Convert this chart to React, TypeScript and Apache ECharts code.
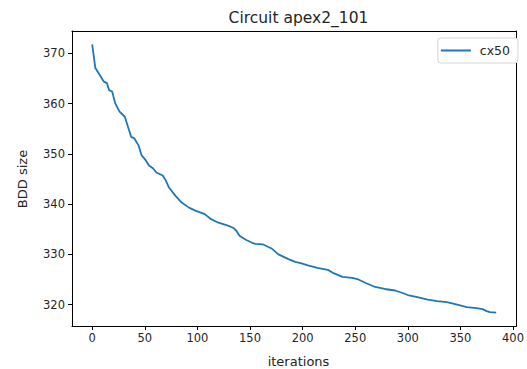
import React, { useEffect, useRef } from "react";
import * as echarts from "echarts";

const iterations = [0,3,6,11,14,16,19,22,26,31,34,37,40,44,47,51,54,58,61,67,70,73,79,85,92,98,107,113,120,129,134,137,140,146,152,155,162,171,177,187,193,199,205,214,224,230,238,247,253,260,269,278,288,295,300,309,319,328,337,347,356,365,371,375,378,384];
const bddSize = [371.8,367.1,366.1,364.4,364.1,362.7,362.4,360,358.4,357.4,355.4,353.4,353.1,351.7,349.7,348.7,347.7,347.1,346.3,345.7,344.7,343.3,341.7,340.3,339.3,338.7,338,337,336.3,335.7,335.3,334.7,333.7,332.9,332.3,332.1,332,331.1,330,329,328.5,328.2,327.8,327.3,326.9,326.2,325.5,325.3,325,324.3,323.5,323.1,322.8,322.3,321.9,321.5,321,320.7,320.5,320,319.5,319.3,319.1,318.7,318.5,318.4];
const xTicks = [0,50,100,150,200,250,300,350,400];
const yTicks = [320,330,340,350,360,370];
const seriesName = "cx50";
const titleText = "Circuit apex2_101";
const xName = "iterations";
const yName = "BDD size";

const FONT = "DejaVu Sans";
const TXT = "#262626";

export default function App() {
  const ref = useRef<HTMLDivElement>(null);
  useEffect(() => {
    if (!ref.current) return;
    const chart = echarts.init(ref.current, undefined, { renderer: "svg" });
    const gridLeft = 72, gridRight = 2, gridTop = 31, gridBottom = 43;
    const cx = gridLeft + (527 - gridLeft - gridRight) / 2;
    const frameAxis = { show: true, onZero: false, lineStyle: { color: "#000", width: 1 } };
    chart.setOption({
      animation: false,
      grid: { left: gridLeft, right: gridRight, top: gridTop, bottom: gridBottom },
      xAxis: [{
        type: "value", min: -19.2, max: 403.2, position: "bottom",
        splitLine: { show: false },
        axisLine: frameAxis,
        axisTick: { show: true, customValues: xTicks, length: 4, lineStyle: { color: "#000" } },
        axisLabel: { customValues: xTicks, margin: 6, color: TXT, fontFamily: FONT, fontSize: 11.5 },
      }, {
        type: "value", min: -19.2, max: 403.2, position: "top",
        splitLine: { show: false }, axisLine: frameAxis, axisTick: { show: false }, axisLabel: { show: false },
      }],
      yAxis: [{
        type: "value", min: 315.73, max: 374.47, position: "left",
        splitLine: { show: false },
        axisLine: frameAxis,
        axisTick: { show: true, customValues: yTicks, length: 4, lineStyle: { color: "#000" } },
        axisLabel: { customValues: yTicks, margin: 7, color: TXT, fontFamily: FONT, fontSize: 11.5 },
      }, {
        type: "value", min: 315.73, max: 374.47, position: "right",
        splitLine: { show: false }, axisLine: frameAxis, axisTick: { show: false }, axisLabel: { show: false },
      }],
      legend: {
        data: [seriesName], right: 9, top: 38, orient: "vertical",
        icon: "rect", itemWidth: 30, itemHeight: 2,
        borderColor: "#d6d6d6", borderWidth: 1, borderRadius: 3,
        padding: [6, 8, 6, 3], backgroundColor: "#fff",
        textStyle: { color: TXT, fontFamily: FONT, fontSize: 12.5, padding: [0, 0, 0, 4] },
      },
      series: [{
        name: seriesName, type: "line", symbol: "none",
        xAxisIndex: 0, yAxisIndex: 0,
        data: iterations.map((x, i) => [x, bddSize[i]]),
        lineStyle: { color: "#1f77b4", width: 1.8 },
        itemStyle: { color: "#1f77b4" },
      }],
      graphic: [
        { type: "text", x: cx, y: 18, style: { text: titleText, fontFamily: FONT, fontSize: 15.5, fill: TXT, align: "center", verticalAlign: "middle" } },
        { type: "text", x: cx, y: 361, style: { text: xName, fontFamily: FONT, fontSize: 13, fill: TXT, align: "center", verticalAlign: "middle" } },
        { type: "text", x: 22, y: 179, rotation: Math.PI / 2, style: { text: yName, fontFamily: FONT, fontSize: 13, fill: TXT, align: "center", verticalAlign: "middle" } },
      ],
    });
    return () => chart.dispose();
  }, []);
  return <div ref={ref} style={{ width: 527, height: 369, position: "absolute", left: 0, top: 0 }} />;
}
